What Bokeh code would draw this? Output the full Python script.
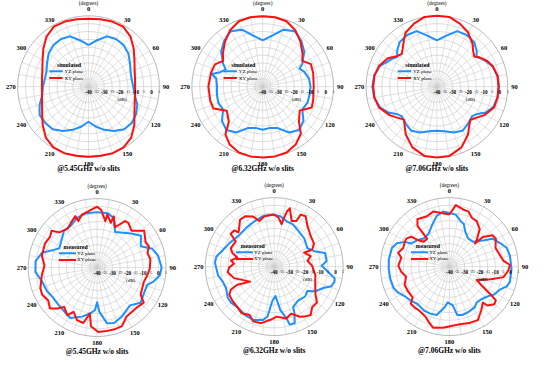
import math
from bokeh.plotting import figure
from bokeh.models import Range1d
from bokeh.embed import file_html
from bokeh.resources import INLINE
from bokeh.core.properties import value

# ------------------------------------------------------------------ data
RING_DB = [-35, -30, -25, -20, -15, -10, -5, 0, 5]
RING_LABEL_DB = [-40, -35, -30, -25, -20, -15, -10, -5, 0, 5]
RING_LABELS = ["-40", "-35", "-30", "-25", "-20", "-15", "-10", "-5", "0", "5"]
RING_MAJOR = [True, False, True, False, True, False, True, False, True, False]
ANGLE_TICKS = [0, 30, 60, 90, 120, 150, 180, 210, 240, 270, 300, 330]
ANGLE_LABELS = ["0", "30", "60", "90", "120", "150", "180", "210", "240", "270", "300", "330"]
SPOKE_ANGLES = [0, 10, 20, 30, 40, 50, 60, 70, 80, 90, 100, 110, 120, 130, 140, 150, 160, 170,
                180, 190, 200, 210, 220, 230, 240, 250, 260, 270, 280, 290, 300, 310, 320, 330, 340, 350]
DB_MIN = -40
DB_MAX = 5

TITLES = ["@5.45GHz w/o slits", "@6.32GHz w/o slits", "@7.06GHz w/o slits",
          "@5.45GHz w/o slits", "@6.32GHz w/o slits", "@7.06GHz w/o slits"]
LEGEND_TITLES = ["simulated", "simulated", "simulated", "measured", "measured", "measured"]
SERIES_NAMES = ["YZ plane", "XY plane"]

# 5.45 GHz simulated
sim545_ang = [0, 10, 20, 30, 40, 50, 60, 70, 80, 90, 100, 110, 120, 130, 140, 150, 160, 170,
              180, 190, 200, 210, 220, 230, 240, 250, 260, 270, 280, 290, 300, 310, 320, 330, 340, 350]
sim545_xy = [3.2, 3.5, 4.0, 4.0, 1.5, -2.5, -6.3, -8.8, -10.0, -10.4, -10.0, -8.8, -6.3, -2.0, 2.2, 4.6, 5.0, 4.6,
             4.5, 4.6, 5.0, 4.6, 2.2, -2.0, -6.0, -8.6, -10.0, -10.4, -10.0, -8.8, -6.3, -2.5, 1.5, 4.0, 4.0, 3.5]
sim545_yz = [-13.6, -10.2, -6.0, -5.1, -5.5, -7.0, -9.6, -11.6, -12.2, -11.6, -10.2, -7.0, -5.1, -4.1, -4.7, -7.4, -10.8, -14.3,
             -17.7, -14.3, -10.8, -7.4, -4.7, -4.1, -4.1, -7.0, -10.2, -11.0, -11.8, -11.6, -9.6, -7.0, -5.5, -5.1, -6.0, -10.2]

# 6.32 GHz simulated
sim632_xy_ang = [0, 10, 20, 30, 40, 50, 57, 65, 75, 90, 105, 113, 123, 134, 141, 150, 160, 170, 180,
                 190, 200, 210, 218, 224, 236, 246, 255, 270, 285, 295, 303, 310, 320, 330, 340, 350]
sim632_xy = [4.8, 4.8, 4.2, 1.4, -2.7, -7.0, -10.0, -6.2, -6.8, -7.6, -6.8, -6.2, -12.0, -8.0, -1.5, 2.2, 4.5, 5.0, 5.0,
             5.0, 4.5, 2.2, -1.5, -9.0, -12.5, -5.8, -5.5, -5.5, -6.0, -6.5, -10.0, -7.0, -2.7, 1.4, 4.2, 4.8]
sim632_yz_ang = [0, 10, 20, 30, 40, 50, 60, 64, 70, 80, 90, 100, 110, 120, 130, 140, 150, 160, 170, 180,
                 190, 200, 210, 220, 230, 240, 250, 260, 270, 280, 284, 288, 295, 300, 310, 320, 330, 340, 350]
sim632_yz = [-10.6, -7.2, -1.5, 0.7, -1.9, -5.5, -11.0, -14.0, -12.0, -10.2, -9.6, -9.8, -9.8, -11.0, -6.2, -4.1, -6.4, -12.0, -13.4, -12.6,
             -13.4, -12.0, -6.4, -4.1, -6.2, -11.0, -10.0, -10.5, -11.0, -10.0, -6.6, -11.0, -14.0, -11.0, -5.5, -1.9, 0.7, -1.5, -7.2]

# 7.06 GHz simulated
sim706_xy_ang = [0, 10, 20, 30, 40, 45, 51, 56, 63, 70, 80, 90, 100, 110, 121, 128, 135, 141, 147, 158,
                 170, 180, 190, 202, 213, 219, 225, 232, 239, 250, 260, 270, 280, 290, 300, 307, 313, 318, 325, 330, 340, 350]
sim706_xy = [5.0, 5.0, 2.6, -0.3, -4.7, -7.5, -9.5, -7.0, -4.1, -2.2, -0.9, -0.9, -0.9, -1.3, -4.9, -8.0, -10.0, -7.5, -3.7, 1.6,
             4.8, 5.0, 4.8, 1.6, -3.7, -7.5, -10.4, -8.0, -4.9, -1.0, 0.3, 0.5, 0.3, -1.0, -4.0, -8.0, -9.5, -7.5, -3.5, -0.3, 2.6, 5.0]
sim706_yz_ang = [0, 10, 20, 30, 40, 48, 53, 58, 64, 70, 80, 90, 100, 110, 118, 124, 130, 140, 150, 160,
                 170, 180, 190, 200, 210, 220, 230, 236, 242, 250, 260, 270, 280, 290, 296, 302, 307, 312, 320, 330, 340, 350]
sim706_yz = [-10.6, -7.2, -2.5, -2.1, -3.1, -6.0, -8.5, -6.5, -4.5, -2.3, -0.9, -0.5, -0.9, -1.9, -5.0, -9.0, -10.8, -9.2, -7.6, -9.0,
             -11.2, -12.0, -11.2, -9.0, -7.6, -9.2, -10.8, -9.0, -5.0, -1.5, 0.5, 1.0, 0.5, -1.5, -4.5, -6.5, -8.5, -6.0, -3.1, -2.1, -2.5, -7.2]

# 5.45 GHz measured
meas545_xy_ang = [0, 4, 10, 11, 17, 18, 24, 31, 35, 43, 52, 62, 68, 74, 81, 91, 99, 107, 122, 127,
                  134, 149, 157, 165, 172, 179, 186, 189, 194, 201, 208, 212, 220, 224, 229, 236, 244, 250, 262, 272,
                  282, 295, 303, 309, 313, 323, 332, 337, 338, 344, 351]
meas545_xy = [-0.2, -2.3, -9.2, -4.8, -9.4, -4.8, -11.2, -4.6, -4.4, -7.1, -1.0, -4.2, -3.5, -5.8, -4.8, -5.6, -6.9, -8.1, -6.5, -1.9,
              -3.1, -2.7, 1.5, 1.9, 1.9, 2.1, -1.5, -9.6, -2.7, -3.3, -7.3, -3.3, -6.5, -2.9, 0.8, -1.5, 0.0, -0.6, -3.5, -5.6,
              -3.1, -2.5, -3.3, -1.7, -6.3, -8.1, -5.4, -3.5, -7.3, -4.0, -2.9]
meas545_yz_ang = [0, 11, 18, 27, 45, 54, 64, 71, 79, 90, 97, 104, 109, 118, 129, 139, 153, 163, 170, 177,
                  180, 183, 189, 197, 208, 214, 227, 236, 245, 256, 266, 276, 285, 293, 297, 318, 328, 338, 349]
meas545_yz = [-3.8, -3.8, -5.8, -14.0, -8.5, -4.6, -8.3, -2.1, 0.6, 2.1, 1.3, -2.1, -5.4, -5.2, -3.5, -7.3, -4.2, -2.1, -3.1, -11.0,
              -17.3, -12.1, -9.6, -6.5, -2.7, -3.8, -5.0, -5.2, -3.8, -2.9, 0.4, 0.4, -2.7, -10.0, -12.3, -7.7, -7.7, -5.0, -3.8]

# 6.32 GHz measured
meas632_xy_ang = [0, 5, 10, 11, 13, 15, 21, 26, 27, 32, 39, 44, 49, 60, 66, 65, 74, 80, 89, 102,
                  110, 124, 130, 137, 143, 149, 153, 160, 167, 177, 184, 193, 201, 207, 215, 222, 231, 238, 242, 244,
                  238, 254, 263, 269, 274, 278, 284, 288, 293, 303, 307, 312, 314, 324, 330, 337, 342, 349]
meas632_xy = [-6.0, -7.9, -11.9, -8.5, -3.1, -0.6, -8.1, -6.9, -1.9, -1.2, -5.6, -7.3, -8.7, -10.0, -12.9, -18.5, -15.2, -17.9, -15.2, -12.5,
              -11.5, -7.5, -3.5, -3.7, -0.4, -1.9, -3.3, -7.3, -5.2, -7.3, -5.2, -2.1, -1.7, -4.6, -2.9, -4.2, -4.8, -5.4, -7.9, -13.1,
              -21.5, -12.7, -9.4, -10.6, -13.7, -11.5, -15.2, -11.3, -9.2, -10.0, -4.4, -4.8, -7.7, -2.1, -2.1, -4.4, -8.7, -6.5]
meas632_yz_ang = [358, 7, 15, 24, 36, 47, 61, 70, 75, 84, 89, 94, 101, 104, 109, 113.5, 121, 126.5, 134, 145,
                  155, 156.5, 160, 165, 166.5, 172, 177.5, 183, 187.6, 192, 201.6, 211, 222.4, 230.5, 236.4, 246, 253.7, 261, 274, 280,
                  288, 297, 311.4, 325, 337, 347]
meas632_yz = [-6.0, -6.9, -9.2, -9.8, -12.1, -13.1, -15.2, -11.3, -5.6, -5.6, -9.0, -5.8, 0.2, 0.6, -0.6, -5.0, -8.7, -13.1, -11.9, -12.9,
              -10.8, -6.7, -0.8, -0.8, -5.2, -11.3, -20.8, -17.7, -7.1, -4.4, -2.5, -3.1, -4.2, -3.3, -3.5, -5.6, -5.0, -2.9, -1.2, -1.7,
              -4.8, -6.9, -9.2, -8.7, -7.7, -6.3]

# 7.06 GHz measured
meas706_xy_ang = [0, 6, 14, 19, 25, 31, 39, 46, 48, 48.5, 54, 59, 68, 78, 84, 88.5, 94, 101, 107, 116,
                  120, 124, 126, 130, 135.5, 137, 144, 152, 161, 171, 186, 195, 201, 205.5, 215, 221, 226, 230, 239, 248,
                  257, 263.5, 271, 280.6, 285, 292, 299, 303, 308, 310, 314, 321.5, 322, 326, 336, 344, 351.5]
meas706_xy = [-6.0, 0.4, -1.7, -1.9, -5.0, -5.4, -8.5, -15.2, -17.5, -10.8, -5.2, -4.6, -7.5, -6.0, -4.4, -0.4, -1.5, -4.0, -11.7, -20.2,
              -16.0, -7.5, -2.5, -1.7, -4.4, -7.9, -4.6, -0.4, -1.0, -1.7, 0.2, 1.3, -1.7, -3.8, -5.2, -5.0, -5.0, -8.7, -8.5, -8.5,
              -11.0, -8.5, -6.7, -8.1, -5.4, -7.5, -6.7, -6.5, -8.3, -12.9, -16.7, -16.7, -6.2, -2.7, -4.0, -2.5, -4.6]
meas706_yz_ang = [0, 7, 14, 19, 25, 34, 44, 53, 57, 65.5, 72, 80, 92, 104, 109, 114, 122, 126, 135.6, 142.8,
                  147.8, 157, 165, 170.7, 175, 182.6, 186.7, 194.7, 202, 210, 220.5, 228, 236.7, 243, 249, 258.7, 268, 277, 288, 294,
                  299, 301, 309.7, 317.7, 327.7, 336.7, 345.8, 353.4]
meas706_yz = [-5.0, -5.8, -9.4, -10.8, -15.2, -17.9, -17.5, -11.3, -6.5, -3.3, -0.6, 0.2, 0.6, 0.8, -0.4, -3.5, -5.6, -7.7, -10.2, -10.6,
              -8.7, -7.9, -7.3, -7.9, -14.6, -16.7, -13.3, -7.3, -6.9, -6.9, -7.9, -6.5, -5.0, -2.5, -1.0, -0.6, -0.4, -0.2, -0.6, -2.5,
              -6.7, -10.8, -12.9, -15.2, -14.6, -11.0, -6.0, -3.8]

SERIES = [
    ((sim545_ang, sim545_yz), (sim545_ang, sim545_xy)),
    ((sim632_yz_ang, sim632_yz), (sim632_xy_ang, sim632_xy)),
    ((sim706_yz_ang, sim706_yz), (sim706_xy_ang, sim706_xy)),
    ((meas545_yz_ang, meas545_yz), (meas545_xy_ang, meas545_xy)),
    ((meas632_yz_ang, meas632_yz), (meas632_xy_ang, meas632_xy)),
    ((meas706_yz_ang, meas706_yz), (meas706_xy_ang, meas706_xy)),
]

# ------------------------------------------------------------------ layout / style
CENTERS = [(88, 90), (270, 90), (452, 90), (97, 279), (282, 278), (465, 278)]
RADII = [74, 74, 74, 72, 72, 72]
BLUE = "#1e90ff"
RED = "#ff1010"
COLORS = [BLUE, RED]
GRID = "#cdcdcd"
FONT = value("Liberation Serif")
RING_STEPS = 90  # polygon resolution of the grid rings

p = figure(width=534, height=358, output_backend="svg", toolbar_location=None,
           x_range=Range1d(-3.95, 553.95), y_range=Range1d(374, 0),
           x_axis_type=None, y_axis_type=None, min_border=0)
p.outline_line_color = None
p.grid.visible = False
p.background_fill_color = "white"


def rad_of(db, R):
    d = max(db, DB_MIN)
    return (d - DB_MIN) / (DB_MAX - DB_MIN) * R


def to_xy(cx, cy, R, ang, db):
    r = rad_of(db, R)
    t = math.radians(ang)
    return cx + r * math.sin(t), cy - r * math.cos(t)


def txt(xs, ys, texts, size, bold=False, align="center", color="black"):
    p.text(x=xs, y=ys, text=texts, text_font=FONT, text_font_size=size,
           text_font_style="bold" if bold else "normal", text_align=align,
           text_baseline="middle", text_color=color)


for i, ((cx, cy), R) in enumerate(zip(CENTERS, RADII)):
    # spokes
    x0, y0, x1, y1 = [], [], [], []
    for a in SPOKE_ANGLES:
        ex, ey = to_xy(cx, cy, R, a, DB_MAX)
        x0.append(cx); y0.append(cy); x1.append(ex); y1.append(ey)
    p.segment(x0=x0, y0=y0, x1=x1, y1=y1, line_color=GRID, line_width=0.6)
    # rings (through the same polar transform as the curves)
    rxs, rys = [], []
    for d in RING_DB:
        xs, ys = [], []
        for k in range(RING_STEPS + 1):
            x, y = to_xy(cx, cy, R, 360.0 * k / RING_STEPS, d)
            xs.append(x); ys.append(y)
        rxs.append(xs); rys.append(ys)
    p.multi_line(rxs[:-1], rys[:-1], line_color=GRID, line_width=0.7)
    p.line(rxs[-1], rys[-1], line_color="#b0b0b0", line_width=0.9)

    # curves
    for (angs, vals), col in zip(SERIES[i], COLORS):
        xs, ys = [], []
        for a, v in zip(angs, vals):
            x, y = to_xy(cx, cy, R, a, v)
            xs.append(x); ys.append(y)
        xs.append(xs[0]); ys.append(ys[0])
        p.line(xs, ys, line_color=col, line_width=2.0, line_join="round")

    # angle labels
    lx, ly = [], []
    for a in ANGLE_TICKS:
        t = math.radians(a)
        lx.append(cx + (R + 7) * math.sin(t))
        ly.append(cy - (R + 7) * math.cos(t))
    txt(lx, ly, ANGLE_LABELS, "6.5px", bold=True)
    txt([cx], [cy - R - 13], ["(degrees)"], "5.2px")

    # ring labels
    maj_x, maj_y, maj_t, min_x, min_y, min_t = [], [], [], [], [], []
    for d, lab, major in zip(RING_LABEL_DB, RING_LABELS, RING_MAJOR):
        x = cx + rad_of(d, R)
        if major:
            maj_x.append(x); maj_y.append(cy + 6); maj_t.append(lab)
        else:
            min_x.append(x); min_y.append(cy + 5); min_t.append(lab)
    txt(maj_x, maj_y, maj_t, "5.2px", bold=True)
    txt(min_x, min_y, min_t, "3.3px")
    txt([cx + 35], [cy + 13], ["(dB)"], "5px")

    # legend
    if i < 3:
        tx, l0, l1, ty = cx - 33, cx - 41, cx - 27, cy - 23
        lab_x = cx - 25
    else:
        tx, l0, l1, ty = cx - 35, cx - 40, cx - 22, cy - 22
        lab_x = cx - 21
    txt([tx], [ty], [LEGEND_TITLES[i]], "5.8px", bold=True, align="left")
    for k, (name, col) in enumerate(zip(SERIES_NAMES, COLORS)):
        yy = ty + 7 + 7 * k
        p.line([l0, l1], [yy, yy], line_color=col, line_width=2.0)
        txt([lab_x], [yy], [name], "5px", align="left")

    # title
    txt([cx], [cy + (85 if i < 3 else 88)], [TITLES[i]], "7.5px", bold=True)

open("out.html", "w").write(file_html(p, INLINE))
